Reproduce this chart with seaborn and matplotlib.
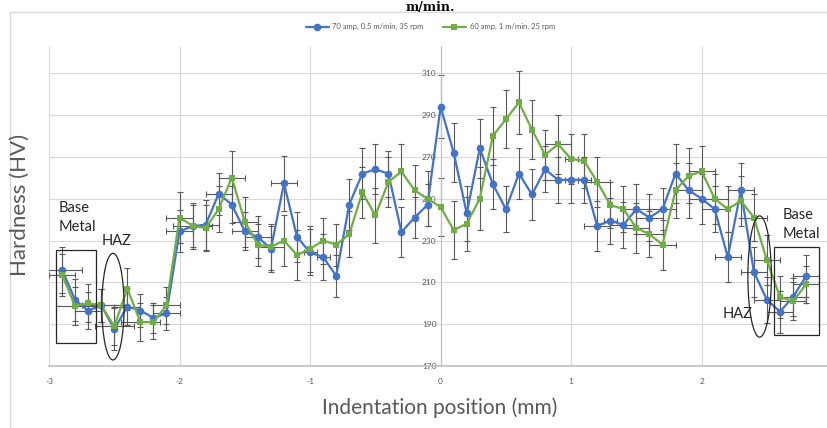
import numpy as np
import pandas as pd
import matplotlib
matplotlib.use('Agg')
import matplotlib.pyplot as plt
import seaborn as sns
from matplotlib.patches import Rectangle, Ellipse
from matplotlib.lines import Line2D

# indentation positions (mm)
positions = [-2.9, -2.8, -2.7, -2.6, -2.5, -2.4, -2.3, -2.2, -2.1, -2.0,
             -1.9, -1.8, -1.7, -1.6, -1.5, -1.4, -1.3, -1.2, -1.1, -1.0,
             -0.9, -0.8, -0.7, -0.6, -0.5, -0.4, -0.3, -0.2, -0.1, 0.0,
             0.1, 0.2, 0.3, 0.4, 0.5, 0.6, 0.7, 0.8, 0.9, 1.0,
             1.1, 1.2, 1.3, 1.4, 1.5, 1.6, 1.7, 1.8, 1.9, 2.0,
             2.1, 2.2, 2.3, 2.4, 2.5, 2.6, 2.7, 2.8]

label_a = '70 amp, 0.5 m/min, 35 rpm'
label_b = '60 amp, 1 m/min, 25 rpm'

hv_a = [216, 201.6, 196.5, 199, 187.6, 198.4, 196.5, 193, 195.2, 234.4,
        236.8, 237.6, 252.3, 247.2, 234.4, 231.7, 226, 257.3, 231.7, 224.3,
        222.1, 213.1, 247.2, 262, 264, 262, 234, 241, 247, 294,
        272, 243, 274, 257, 245, 262, 252, 264, 259, 259,
        259, 237, 239.5, 237.5, 245, 241, 245, 262, 254, 250,
        245, 222, 254, 215, 201.6, 196, 203, 213]

hv_b = [213.6, 198.8, 200, 199, 189, 207, 191, 191, 199, 241,
        237, 236, 245, 260, 239, 228, 227, 230, 223, 226,
        230, 228, 233, 253, 242, 258, 263, 254, 250, 246,
        235, 238, 250, 280, 288, 296, 283, 271, 276, 269,
        268, 258, 247, 245, 236, 233, 228, 254, 261, 263,
        250, 245, 249, 241, 220.5, 203, 201, 209]

yerr_a = [11, 10, 9, 8, 10, 9, 8, 7, 8, 10,
          10, 12, 10, 9, 9, 10, 11, 13, 12, 11,
          11, 10, 12, 12, 12, 11, 12, 10, 10, 15,
          14, 13, 14, 12, 11, 12, 12, 11, 11, 11,
          11, 12, 11, 11, 12, 11, 10, 14, 13, 12,
          11, 12, 13, 12, 11, 10, 9, 10]

yerr_b = [10, 9, 9, 8, 9, 10, 9, 8, 9, 12,
          11, 11, 11, 13, 12, 10, 11, 12, 12, 11,
          11, 10, 11, 12, 13, 12, 13, 12, 13, 14,
          14, 13, 15, 14, 14, 15, 14, 12, 14, 12,
          13, 12, 11, 11, 12, 11, 12, 13, 13, 12,
          12, 11, 12, 11, 12, 10, 9, 9]

xerr_a = [0.15, 0, 0.1, 0.15, 0, 0.1, 0, 0, 0.1, 0.1,
          0.15, 0.1, 0.1, 0, 0.1, 0.1, 0, 0.1, 0, 0.05,
          0.05, 0, 0, 0, 0, 0, 0, 0, 0, 0,
          0, 0, 0, 0, 0, 0, 0, 0, 0.1, 0.05,
          0.05, 0.1, 0.05, 0.1, 0.1, 0.1, 0.1, 0, 0.1, 0.1,
          0.1, 0.1, 0.1, 0.1, 0.1, 0.1, 0.1, 0.1]

xerr_b = [0.1, 0.15, 0, 0.2, 0.15, 0, 0.15, 0, 0.1, 0.1,
          0, 0, 0, 0.1, 0.1, 0, 0.1, 0, 0, 0,
          0, 0, 0, 0, 0, 0, 0, 0, 0, 0,
          0, 0, 0, 0, 0, 0, 0, 0, 0.1, 0.05,
          0, 0.1, 0, 0, 0.1, 0.1, 0.1, 0, 0, 0.1,
          0.1, 0, 0, 0.1, 0.1, 0, 0.1, 0.1]

blue = '#4472C4'
green = '#70AD47'
grey = '#595959'

df = pd.DataFrame({
    'pos': positions + positions,
    'hv': hv_a + hv_b,
    'series': [label_a] * len(positions) + [label_b] * len(positions),
})

sns.set_style('white')
plt.rcParams['font.family'] = ['Lato', 'DejaVu Sans']

fig = plt.figure(figsize=(8.27, 4.28), dpi=100)
ax = fig.add_axes([49 / 827, (428 - 366) / 428, (827 - 49) / 827, (366 - 46) / 428])

ax.errorbar(positions, hv_a, yerr=yerr_a, xerr=xerr_a, fmt='none',
            ecolor=grey, elinewidth=0.8, capsize=2.5, capthick=0.8, zorder=2)
ax.errorbar(positions, hv_b, yerr=yerr_b, xerr=xerr_b, fmt='none',
            ecolor=grey, elinewidth=0.8, capsize=2.5, capthick=0.8, zorder=2)

sns.lineplot(data=df, x='pos', y='hv', hue='series', style='series',
             palette=[blue, green], markers=['o', 's'], dashes=False,
             markersize=5.5, markeredgewidth=0, linewidth=1.6, sort=False,
             ax=ax, zorder=3)
# squares look bigger than circles at the same size
for ln in ax.lines:
    if ln.get_marker() == 's':
        ln.set_markersize(4.6)

ax.set_xlim(-3, 2.96)
ax.set_ylim(170, 323)
ax.set_xticks([-3, -2, -1, 0, 1, 2])
ax.set_xticklabels(['-3', '-2', '-1', '0', '1', '2'])
ax.set_yticks([170, 190, 210, 230, 250, 270, 290, 310])
ax.grid(True, color='#d9d9d9', linewidth=0.8, zorder=0)
ax.set_axisbelow(True)

for s in ['top', 'right']:
    ax.spines[s].set_visible(False)
ax.spines['left'].set_position(('data', 0))
ax.spines['left'].set_color('#bfbfbf')
ax.spines['bottom'].set_color('#bfbfbf')
ax.spines['bottom'].set_linewidth(1.2)
ax.tick_params(axis='y', direction='inout', length=4, color='#bfbfbf',
               labelsize=6, labelcolor=grey, pad=1)
ax.tick_params(axis='x', length=0, labelsize=6, labelcolor=grey, pad=9)
ax.set_xlabel('')
ax.set_ylabel('')

leg = ax.legend(loc='center', bbox_to_anchor=(0.49, 1.06), ncol=2,
                frameon=False, fontsize=5.5, handlelength=3,
                columnspacing=2.5, handletextpad=0.5)
for t in leg.get_texts():
    t.set_color(grey)

# annotations
ax.add_patch(Rectangle((-2.95, 181), 0.31, 44.3, fill=False,
                       edgecolor='#262626', linewidth=0.9, zorder=4))
ax.add_patch(Ellipse((-2.51, 198.4), 0.17, 51, fill=False,
                     edgecolor='#262626', linewidth=0.9, zorder=4))
ax.add_patch(Rectangle((2.554, 185), 0.345, 42, fill=False,
                       edgecolor='#262626', linewidth=0.9, zorder=4))
ax.add_patch(Ellipse((2.444, 212.8), 0.18, 58, fill=False,
                     edgecolor='#262626', linewidth=0.9, zorder=4))

ax.text(-2.93, 241, 'Base\nMetal', fontsize=10.5, color='#262626',
        ha='left', va='center', linespacing=1.45)
ax.text(-2.6, 230, 'HAZ', fontsize=10.5, color='#262626', ha='left', va='center')
ax.text(2.62, 237.5, 'Base\nMetal', fontsize=10.5, color='#262626',
        ha='left', va='center', linespacing=1.45)
ax.text(2.16, 195, 'HAZ', fontsize=10.5, color='#262626', ha='left', va='center')

fig.text(20 / 827, 1 - 205 / 428, 'Hardness (HV)', rotation=90, fontsize=16,
         color=grey, ha='center', va='center')
fig.text(440 / 827, 1 - 408 / 428, 'Indentation position (mm)', fontsize=15,
         color=grey, ha='center', va='center')

fig.text(0.52, 1 - 1 / 428, 'm/min.', fontsize=9, fontweight='bold',
         family='DejaVu Serif', ha='center', va='top', color='black')

fig.add_artist(Line2D([10 / 827, 1], [1 - 12 / 428, 1 - 12 / 428],
                      color='#d9d9d9', linewidth=1, transform=fig.transFigure))
fig.add_artist(Line2D([10 / 827, 10 / 827], [0, 1 - 12 / 428],
                      color='#d9d9d9', linewidth=1, transform=fig.transFigure))

fig.savefig('out.png', dpi=100)
